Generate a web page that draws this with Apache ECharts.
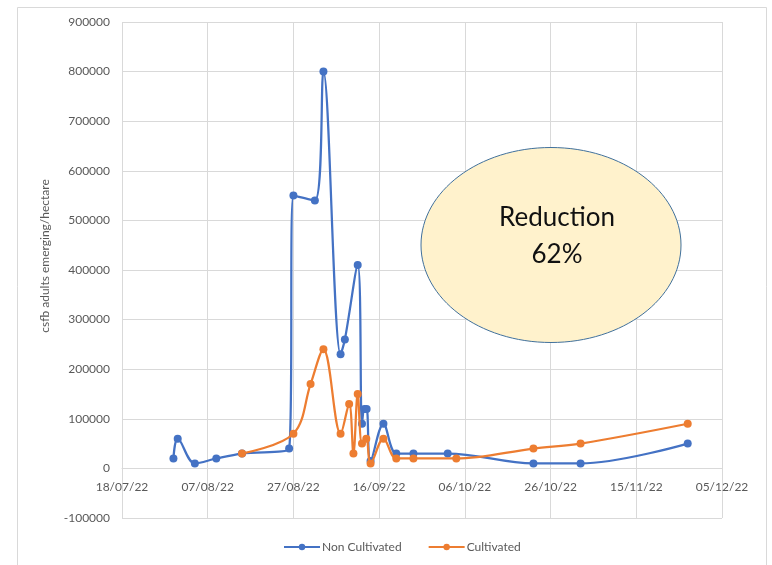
<!DOCTYPE html>
<html>
<head>
<meta charset="utf-8">
<script src="https://cdn.jsdelivr.net/npm/echarts@6/dist/echarts.min.js"></script>
<style>html,body{margin:0;padding:0;background:#fff}#c{width:772px;height:565px}</style>
</head>
<body>
<div id="c"></div>
<script>
// ---- data ----
const nonCultDates = ['2022-07-30','2022-07-31','2022-08-04','2022-08-09','2022-08-15','2022-08-26','2022-08-27','2022-09-01','2022-09-03','2022-09-07','2022-09-08','2022-09-11','2022-09-12T00:00Z','2022-09-12T14:00Z','2022-09-13T02:00Z','2022-09-14','2022-09-17','2022-09-20','2022-09-24','2022-10-02','2022-10-22','2022-11-02','2022-11-27'];
const nonCultValues = [20000,60000,10000,20000,30000,40000,550000,540000,800000,230000,260000,410000,90000,120000,120000,15000,90000,30000,30000,30000,10000,10000,50000];
const cultDates = ['2022-08-15','2022-08-27','2022-08-31','2022-09-03','2022-09-07','2022-09-09','2022-09-10','2022-09-11','2022-09-12','2022-09-13','2022-09-14','2022-09-17','2022-09-20','2022-09-24','2022-10-04','2022-10-22','2022-11-02','2022-11-27'];
const cultValues = [30000,70000,170000,240000,70000,130000,30000,150000,50000,60000,10000,60000,20000,20000,20000,40000,50000,90000];
const seriesNames = ['Non Cultivated','Cultivated'];
const xStart = '2022-07-18';
const xEnd = '2022-12-05';
const xStepDays = 20;
const yMin = -100000, yMax = 900000, yStep = 100000;
const yAxisTitle = 'csfb adults emerging/hectare';
const noteLines = ['Reduction','62%'];

const DAY = 86400000;
const ts = d => Date.parse(d.length === 10 ? d + 'T00:00:00Z' : d);
const pairs = (ds, vs) => ds.map((d, i) => [ts(d), vs[i]]);
const fmt = v => {
  const d = new Date(v);
  const p = n => String(n).padStart(2, '0');
  return p(d.getUTCDate()) + '/' + p(d.getUTCMonth() + 1) + '/' + String(d.getUTCFullYear()).slice(2);
};

const FONT = 'Lato, "Liberation Sans", sans-serif';
const grey = '#595959';
const gridCol = '#d9d9d9';
const GRID_TOP = 22, GRID_BOTTOM = 47, H = 565;
const plotH = H - GRID_TOP - GRID_BOTTOM;
// distance from the bottom edge of the plot up to the value 0 (so the date labels sit under the zero line)
const zeroLift = plotH * (0 - yMin) / (yMax - yMin);

const chart = echarts.init(document.getElementById('c'), null, {renderer: 'canvas'});
chart.setOption({
  animation: false,
  backgroundColor: '#fff',
  textStyle: {fontFamily: FONT},
  grid: {left: 122, right: 50, top: GRID_TOP, bottom: GRID_BOTTOM, containLabel: false},
  xAxis: {
    type: 'value',
    min: ts(xStart), max: ts(xEnd), interval: xStepDays * DAY,
    offset: -zeroLift,
    axisLine: {show: true, onZero: false, lineStyle: {color: gridCol, width: 1}},
    axisTick: {show: false},
    axisLabel: {formatter: fmt, color: grey, fontSize: 12, margin: 13, fontFamily: FONT, showMinLabel: true, showMaxLabel: true},
    splitLine: {show: true, lineStyle: {color: gridCol, width: 1}}
  },
  yAxis: {
    type: 'value',
    min: yMin, max: yMax, interval: yStep,
    axisLine: {show: false},
    axisTick: {show: false},
    axisLabel: {color: grey, fontSize: 12, margin: 12, fontFamily: FONT, formatter: v => String(v)},
    splitLine: {show: true, lineStyle: {color: gridCol, width: 1}}
  },
  legend: {
    bottom: 7, left: 278,
    itemWidth: 36, itemHeight: 8, itemGap: 26,
    textStyle: {color: grey, fontSize: 12, fontFamily: FONT, padding: [0, 0, 0, -3]},
    data: seriesNames
  },
  series: [
    {
      name: seriesNames[0], type: 'line', smooth: 0.35,
      data: pairs(nonCultDates, nonCultValues),
      symbol: 'circle', symbolSize: 8,
      itemStyle: {color: '#4472C4'},
      lineStyle: {color: '#4472C4', width: 2.25},
      z: 2
    },
    {
      name: seriesNames[1], type: 'line', smooth: 0.35,
      data: pairs(cultDates, cultValues),
      symbol: 'circle', symbolSize: 8,
      itemStyle: {color: '#ED7D31'},
      lineStyle: {color: '#ED7D31', width: 2.25},
      z: 3
    }
  ],
  graphic: [
    {type: 'rect', shape: {x: 17.5, y: 7.5, width: 749, height: 600}, style: {fill: 'none', stroke: gridCol, lineWidth: 1}, silent: true, z: -10},
    {type: 'text', x: 45, y: 256, rotation: Math.PI / 2,
      style: {text: yAxisTitle, fill: grey, fontSize: 12, fontFamily: FONT, align: 'center', verticalAlign: 'middle'}},
    {type: 'ellipse', shape: {cx: 551, cy: 245, rx: 130, ry: 97.5},
      style: {fill: '#FFF2CC', stroke: '#41719C', lineWidth: 1}, z: 100},
    {type: 'text', x: 557, y: 218, z: 101,
      style: {text: noteLines[0], fill: '#111', fontSize: 26, fontFamily: FONT, align: 'center', verticalAlign: 'middle'}},
    {type: 'text', x: 557, y: 255, z: 101,
      style: {text: noteLines[1], fill: '#111', fontSize: 26, fontFamily: FONT, align: 'center', verticalAlign: 'middle'}}
  ]
});
</script>
</body>
</html>
